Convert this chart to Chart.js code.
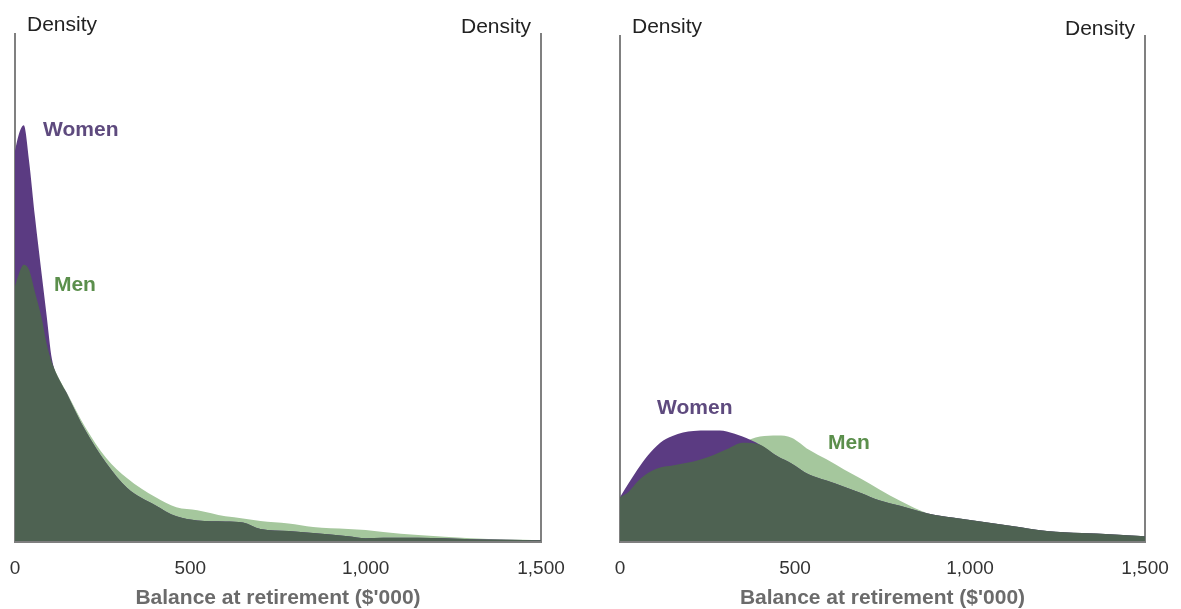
<!DOCTYPE html>
<html>
<head>
<meta charset="utf-8">
<script src="https://cdn.jsdelivr.net/npm/chart.js@4.4.0/dist/chart.umd.min.js"></script>
<style>
body{margin:0;background:#fff;}
#left{position:absolute;left:0;top:0;}
#right{position:absolute;left:590px;top:0;}
</style>
</head>
<body>
<canvas id="left" width="590" height="609"></canvas>
<canvas id="right" width="591" height="609"></canvas>
<script>
// balance at retirement ($'000) and density
let balanceA = [0,10,25,40,57,76,90,105,150,200,260,320,400,460,520,600,650,700,780,850,950,1000,1050,1150,1300,1500];
let womenA = [77,80,82,75,63.9,52.7,44.6,36,28.8,21.9,15.4,10.5,7.1,4.9,4.1,3.9,3.7,2.4,2.0,1.6,1.0,0.6,0.7,0.7,0.4,0.2];
let menA = [50.3,52.5,54.5,53.5,49.1,44,39,35.3,29.0,22.5,16.4,12.4,8.7,6.7,6.1,4.9,4.5,4.0,3.5,2.8,2.4,2.2,1.8,1.2,0.6,0.2];

let balanceB = [0,25,50,80,115,150,180,210,250,285,305,350,400,450,490,540,590,640,690,740,800,880,950,1030,1120,1220,1320,1400,1500];
let womenB = [8.7,11.5,14.2,17.0,19.5,20.8,21.5,21.8,21.9,21.9,21.7,20.7,19.1,16.8,15.4,13.2,12.0,10.8,9.5,8.1,7.0,5.5,4.7,3.9,3.0,2.0,1.6,1.4,1.0];
let menB = [8.7,9.8,11.8,13.5,14.6,15.0,15.4,15.8,16.6,17.6,18.2,19.5,20.7,20.9,20.5,18.1,16.2,14.2,12.3,10.3,8.0,5.5,4.7,3.9,3.0,2.0,1.6,1.4,1.0];

let xTicks = [0,500,1000,1500];
let xTitle = "Balance at retirement ($'000)";
let yLabel = 'Density';

const FONT = '"Liberation Sans", Arial, Helvetica, sans-serif';
const PURPLE = '#5b3b82';
const LIGHT = '#a5c79d';
const DARK = '#4e6252';

Chart.defaults.font.family = FONT;

let textPlugin = {
    id: 'panelText',
    afterDraw(chart, args, opts) {
        let ctx = chart.ctx;
        let a = chart.chartArea;
        let xs = chart.scales.x, ys = chart.scales.y;
        ctx.save();
        ctx.textBaseline = 'middle';
        ctx.font = '21px ' + FONT;
        ctx.fillStyle = '#222';
        ctx.textAlign = 'left';
        ctx.fillText(yLabel, a.left + 12, a.top - 9);
        ctx.textAlign = 'right';
        ctx.fillText(yLabel, a.right - 10, a.top - 7);
        ctx.font = 'bold 21px ' + FONT;
        ctx.textAlign = 'left';
        opts.labels.forEach(l => {
            ctx.fillStyle = l.color;
            ctx.fillText(l.text, xs.getPixelForValue(l.x), ys.getPixelForValue(l.y));
        });
        ctx.restore();
    }
};

function makeChart(id, balance, women, men, pad, labels) {
    let overlap = women.map((w, i) => Math.min(w, men[i]));
    let pts = arr => balance.map((b, i) => ({x: b, y: arr[i]}));
    let ds = (data, color) => ({
        data: pts(data),
        backgroundColor: color,
        borderWidth: 0,
        pointRadius: 0,
        fill: 'origin',
        cubicInterpolationMode: 'monotone'
    });
    let yAxis = pos => ({
        position: pos,
        min: 0, max: 100,
        z: 1,
        ticks: {display: false},
        grid: {display: false, drawTicks: false},
        border: {display: true, color: '#808080', width: 2}
    });
    return new Chart(document.getElementById(id), {
        type: 'line',
        data: {
            datasets: [ds(overlap, DARK), ds(women, PURPLE), ds(men, LIGHT)]
        },
        options: {
            responsive: false,
            animation: false,
            layout: {padding: pad},
            plugins: {
                legend: {display: false},
                tooltip: {enabled: false},
                panelText: {labels: labels}
            },
            scales: {
                x: {
                    type: 'linear',
                    min: 0, max: 1500,
                    z: 1,
                    afterBuildTicks: s => { s.ticks = xTicks.map(v => ({value: v})); },
                    ticks: {padding: 0, color: '#333', font: {size: 19}},
                    grid: {display: true, drawOnChartArea: false, drawTicks: true, tickLength: 16, color: 'rgba(0,0,0,0)'},
                    border: {display: true, color: '#7f7f7f', width: 3},
                    title: {display: true, text: xTitle, color: '#6b6b6b',
                        font: {size: 21, weight: 'bold', lineHeight: 1}, padding: {top: 8, bottom: 0}}
                },
                y: yAxis('left'),
                y2: yAxis('right')
            }
        },
        plugins: [textPlugin]
    });
}

makeChart('left', balanceA, womenA, menA, {left: 15, right: 49, top: 34, bottom: 0}, [
    {text: 'Women', x: 80, y: 81, color: '#5e4a7e'},
    {text: 'Men', x: 111, y: 50.5, color: '#5b8f4c'}
]);
makeChart('right', balanceB, womenB, menB, {left: 30, right: 36, top: 36, bottom: 0}, [
    {text: 'Women', x: 106, y: 26.4, color: '#5e4a7e'},
    {text: 'Men', x: 594, y: 19.3, color: '#5b8f4c'}
]);
</script>
</body>
</html>
